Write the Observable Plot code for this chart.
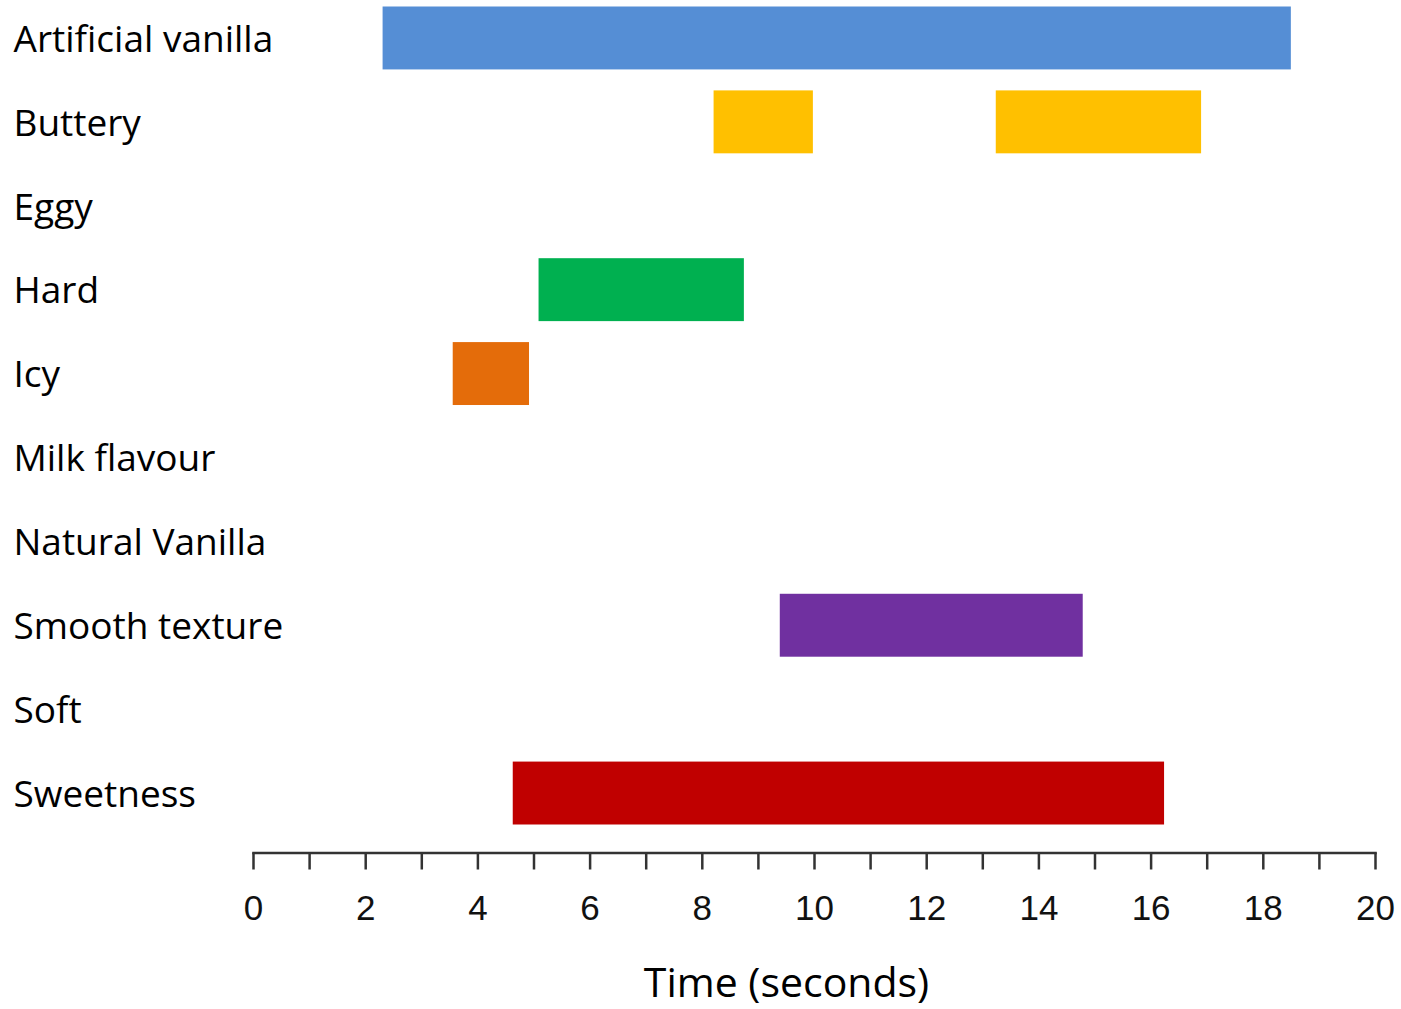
<!DOCTYPE html>
<html>
<head>
<meta charset="utf-8">
<script src="https://cdn.jsdelivr.net/npm/d3@7"></script>
<script src="https://cdn.jsdelivr.net/npm/@observablehq/plot@0.6"></script>
<style>
  html, body { margin: 0; padding: 0; background: #fff; }
</style>
</head>
<body>
<div id="chart"></div>
<script>
// Attributes (rows, top to bottom)
const categories = ["Artificial vanilla", "Buttery", "Eggy", "Hard", "Icy", "Milk flavour", "Natural Vanilla", "Smooth texture", "Soft", "Sweetness"];
// Dominance periods (seconds)
const barAttribute = ["Artificial vanilla", "Buttery", "Buttery", "Hard", "Icy", "Smooth texture", "Sweetness"];
const barStart = [2.31, 8.21, 13.24, 5.09, 3.56, 9.39, 4.63];
const barEnd   = [18.5, 9.98, 16.9, 8.75, 4.92, 14.79, 16.24];
// Colour per attribute
const palette = ["#558ED5", "#FFC000", "#BFBFBF", "#00B050", "#E46C0A", "#BFBFBF", "#BFBFBF", "#7030A0", "#BFBFBF", "#C00000"];
// X ticks
const xTicks = d3.range(0, 21, 1);

const bars = barAttribute.map((a, i) => ({attribute: a, start: barStart[i], end: barEnd[i]}));

const W = 1401, H = 1009;
const chart = Plot.plot({
  width: W,
  height: H,
  marginLeft: 253,
  marginRight: 26,
  marginTop: 6.5,
  marginBottom: 156.5,
  style: {background: "#fff", overflow: "visible"},
  x: {domain: [0, 20], axis: null},
  y: {domain: categories, range: [6.5, 824.5], paddingInner: 0.25, paddingOuter: 0, round: false, axis: null},
  color: {domain: categories, range: palette},
  marks: [
    Plot.barX(bars, {y: "attribute", x1: "start", x2: "end", fill: "attribute", insetTop: 0, insetBottom: 0}),
    Plot.axisY({
      tickSize: 0,
      tickPadding: 240,
      textAnchor: "start",
      fontSize: 37,
      fontFamily: "Open Sans",
      fill: "#000",
      dy: 1.5,
      label: null
    }),
    Plot.frame({anchor: "bottom", stroke: "#333", strokeWidth: 2.5}),
    Plot.axisX({
      ticks: xTicks,
      tickSize: 17,
      tickPadding: 25,
      strokeWidth: 2.5,
      stroke: "#333",
      tickFormat: d => d % 2 === 0 ? String(d) : "",
      fontSize: 35,
      fontFamily: "Liberation Sans",
      fill: "#111",
      label: null
    }),
    Plot.text(["Time (seconds)"], {
      frameAnchor: "bottom",
      dy: 144,
      dx: -28,
      fontSize: 41,
      fontFamily: "Open Sans",
      fill: "#000"
    })
  ]
});
document.getElementById("chart").appendChild(chart);
</script>
</body>
</html>
